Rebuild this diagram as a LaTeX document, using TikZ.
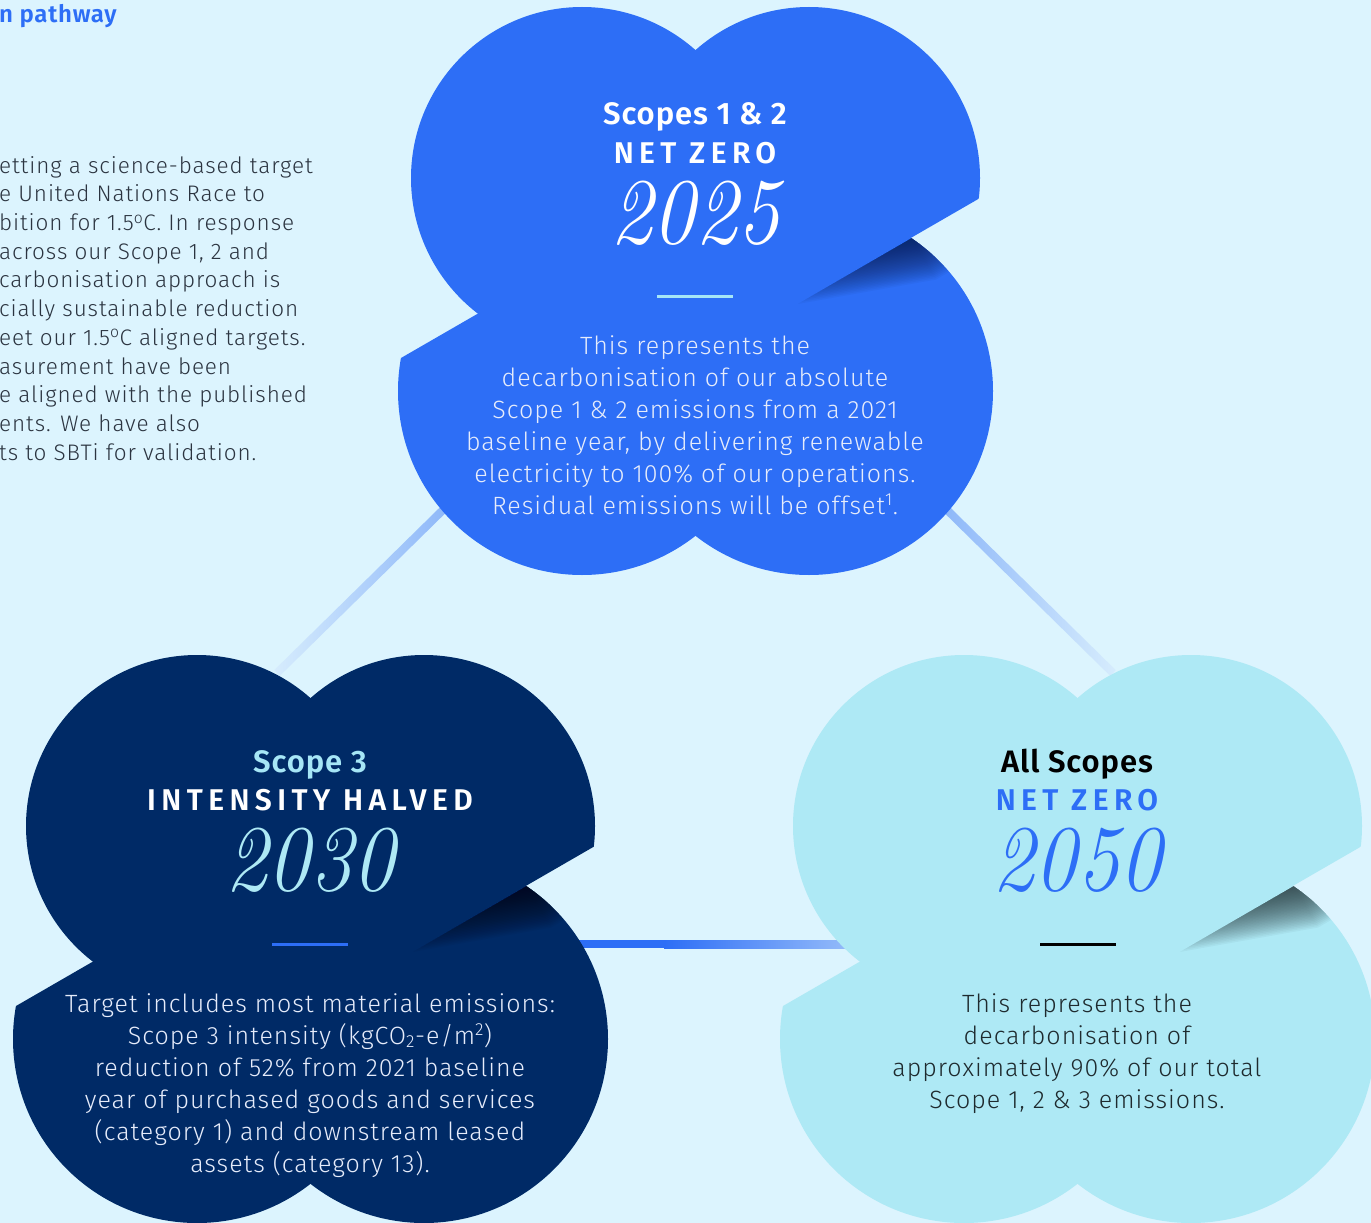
\documentclass[tikz,border=0pt]{standalone}
\usepackage{fontspec}
\newfontfamily\lightfont{Fira Sans Light}[LetterSpace=4]
\newfontfamily\boldfont{Fira Sans SemiBold}[LetterSpace=3]
\newfontfamily\capsfont{Fira Sans SemiBold}[LetterSpace=18]
\usetikzlibrary{calc}
\definecolor{bg}{HTML}{DCF4FE}
\definecolor{cblue}{HTML}{2D6EF6}
\definecolor{cnavy}{HTML}{002A66}
\definecolor{clight}{HTML}{AEE9F5}
\definecolor{shblue}{HTML}{0A1A4A}
\definecolor{shnavy}{HTML}{000814}
\definecolor{shlight}{HTML}{1E2B2E}
\definecolor{txtgray}{HTML}{2B3440}
\definecolor{cyantxt}{HTML}{A6E6F6}
\definecolor{linkblue}{HTML}{8DB7F9}
\definecolor{linkmid}{HTML}{A9CAFA}
\definecolor{linkfade}{HTML}{D6ECFD}
\definecolor{paletxt}{HTML}{E6ECFB}
\definecolor{darktxt}{HTML}{1E2A2E}
\definecolor{hlight}{HTML}{A0C4FA}
\newcommand{\drawcloud}[3]{%
 \begin{scope}[shift={#1}]
  \begin{scope}
   \clip (-204,1133) -- (792,558) -- (792,1300) -- (-204,1300) -- cycle;
   \fill[#2] (197,1039) circle[radius=184];
   \fill[#2] (424,1039) circle[radius=184];
   \fill[#2] (197,860) rectangle (424,1150);
  \end{scope}
  \begin{scope}
   \clip (424,1039) circle[radius=184];
   \begin{scope}[shift={(527,886)}, rotate=30]
    \foreach \k in {1,...,30}{\fill[#3, fill opacity=0.045] (40,0) -- ({-4.4*\k},0) -- (0,{1.6*\k}) -- (40,{1.6*\k}) -- cycle;}
   \end{scope}
  \end{scope}
  \begin{scope}
   \clip (853,697) -- (-186,1297) -- (-186,500) -- (853,500) -- cycle;
   \fill[#2] (197,826) circle[radius=171];
   \fill[#2] (424,826) circle[radius=171];
   \fill[#2] (197,720) rectangle (424,1000);
  \end{scope}
 \end{scope}}
\tikzset{
 head/.style={font=\boldfont\fontsize{31}{36}\selectfont, inner sep=0, anchor=base},
 caps/.style={font=\capsfont\fontsize{30}{36}\selectfont, inner sep=0, anchor=base},
 year/.style={font=\fontsize{94}{100}\selectfont\itshape, inner sep=0, anchor=base, xscale=0.9},
 body/.style={font=\lightfont\fontsize{25}{32}\selectfont, align=center, inner sep=0, anchor=north},
 para/.style={font=\lightfont\fontsize{22.5}{28.7}\selectfont, align=left, inner sep=0, anchor=north west, text=txtgray},
 rule/.style={line width=3pt}
}
\begin{document}
\begin{tikzpicture}[x=1pt,y=-1pt]
\fill[bg] (0,0) rectangle (1371,1223);
\useasboundingbox (0,0) rectangle (1371,1223);
\clip (0,0) rectangle (1371,1223);
% connectors
\coordinate (ta) at (447,506);
\coordinate (la) at (277,673);
\coordinate (tb) at (943,506);
\coordinate (rb) at (1113,673);
\coordinate (lc) at (560,944);
\coordinate (mc) at (666,944);
\coordinate (rc) at (870,944);
\shade[left color=linkfade, middle color=linkmid, right color=linkblue]
 ($(ta)!4pt!90:(la)$) -- ($(la)!4pt!-90:(ta)$) -- ($(la)!4pt!90:(ta)$) -- ($(ta)!4pt!-90:(la)$) -- cycle;
\shade[right color=linkfade, middle color=linkmid, left color=linkblue]
 ($(tb)!4pt!90:(rb)$) -- ($(rb)!4pt!-90:(tb)$) -- ($(rb)!4pt!90:(tb)$) -- ($(tb)!4pt!-90:(rb)$) -- cycle;
\shade[left color=cblue, right color=hlight] ($(mc)+(-2,-4)$) rectangle ($(rc)+(0,4)$);
\fill[cblue] ($(lc)+(0,-4)$) rectangle ($(mc)+(0,4)$);
% clouds
\drawcloud{(385,-648)}{cblue}{shblue}
\drawcloud{(0,0)}{cnavy}{shnavy}
\drawcloud{(767,0)}{clight}{shlight}
% left text
\node[font=\boldfont\fontsize{24}{28}\selectfont, text=cblue, inner sep=0, anchor=base west] (title) at (-1,23) {n pathway};
\node[para] (para) at (-1,156) {etting a science-based target\\e United Nations Race to\\bition for 1.5\textsuperscript{o}C. In response\\across our Scope 1, 2 and\\carbonisation approach is\\cially sustainable reduction\\eet our 1.5\textsuperscript{o}C aligned targets.\\asurement have been\\e aligned with the published\\ents. We have also\\ts to SBTi for validation.};
% top cloud text
\node[head, text=white] (h1) at (695,124) {Scopes 1 \& 2};
\node[caps, text=white] (n1) at (695,163) {NET ZERO};
\node[year, text=white] (y1) at (695,243) {2025};
\draw[rule, draw=cyantxt] (657,296) -- (733,296);
\node[body, text=paletxt] (b1) at (695,335) {This represents the\\decarbonisation of our absolute\\Scope 1 \& 2 emissions from a 2021\\baseline year, by delivering renewable\\electricity to 100\% of our operations.\\Residual emissions will be offset\textsuperscript{1}.};
% left cloud text
\node[head, text=cyantxt] (h2) at (310,772) {Scope 3};
\node[caps, text=white] (n2) at (310,810) {INTENSITY HALVED};
\node[year, text=clight] (y2) at (310,890) {2030};
\draw[rule, draw=cblue] (272,944) -- (348,944);
\node[body, text=paletxt] (b2) at (310,993) {Target includes most material emissions:\\Scope 3 intensity (kgCO\textsubscript{2}-e/m\textsuperscript{2})\\reduction of 52\% from 2021 baseline\\year of purchased goods and services\\(category 1) and downstream leased\\assets (category 13).};
% right cloud text
\node[head, text=black] (h3) at (1077,772) {All Scopes};
\node[caps, text=cblue] (n3) at (1077,810) {NET ZERO};
\node[year, text=cblue] (y3) at (1077,890) {2050};
\draw[rule, draw=black] (1040,944) -- (1116,944);
\node[body, text=darktxt] (b3) at (1077,993) {This represents the\\decarbonisation of\\approximately 90\% of our total\\Scope 1, 2 \& 3 emissions.};
\end{tikzpicture}
\end{document}
